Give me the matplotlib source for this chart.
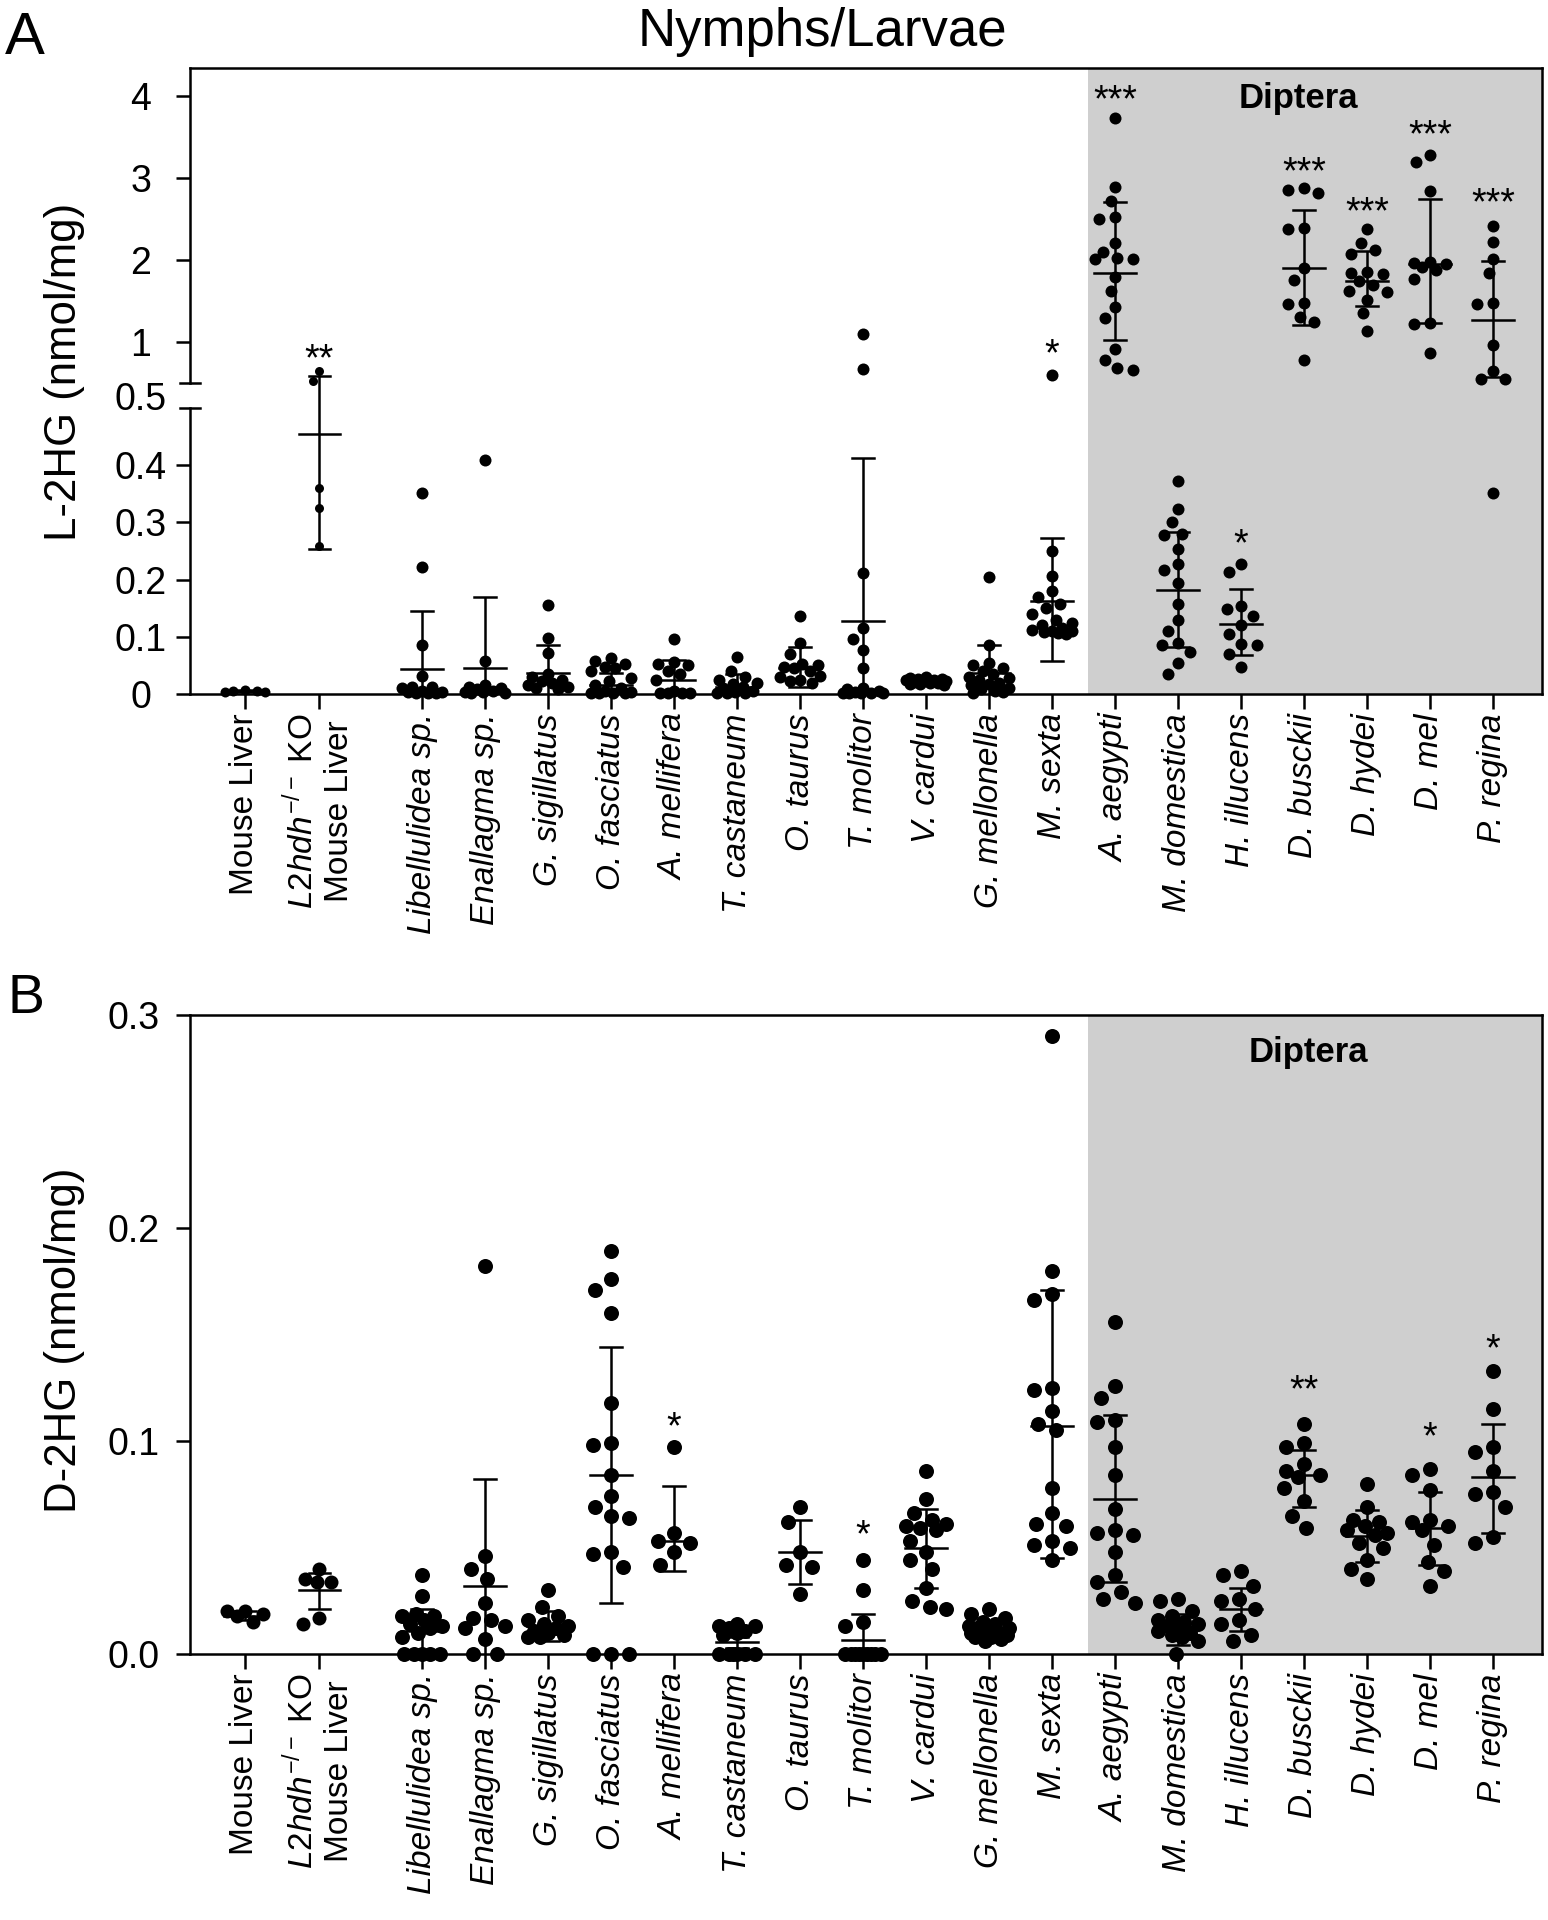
import numpy as np
import matplotlib
matplotlib.use("Agg")
import matplotlib.pyplot as plt

plt.rcParams['font.family'] = ['Liberation Sans', 'DejaVu Sans']
plt.rcParams['mathtext.fontset'] = 'custom'
plt.rcParams['mathtext.rm'] = 'Liberation Sans'
plt.rcParams['mathtext.it'] = 'Liberation Sans:italic'
plt.rcParams['mathtext.bf'] = 'Liberation Sans:bold'

# ---- categories ----
labels = ['Mouse Liver', '$\\mathit{L2hdh}^{-/-}$ KO\nMouse Liver',
          'Libellulidea sp.', 'Enallagma sp.', 'G. sigillatus', 'O. fasciatus',
          'A. mellifera', 'T. castaneum', 'O. taurus', 'T. molitor', 'V. cardui',
          'G. mellonella', 'M. sexta', 'A. aegypti', 'M. domestica', 'H. illucens',
          'D. busckii', 'D. hydei', 'D. mel', 'P. regina']
italic = [False, False] + [True] * 18

# ---- L-2HG (nmol/mg), panel A ----
l2hg_pts = [
    [0.004, 0.006, 0.007, 0.005, 0.004],
    [0.65, 0.53, 0.36, 0.325, 0.258],
    [0.351, 0.222, 0.086, 0.032, 0.013, 0.012, 0.010, 0.006, 0.004, 0.003, 0.002, 0.002, 0.001],
    [0.409, 0.058, 0.015, 0.012, 0.010, 0.008, 0.006, 0.004, 0.003, 0.002, 0.002],
    [0.156, 0.098, 0.071, 0.035, 0.030, 0.025, 0.022, 0.020, 0.015, 0.012, 0.010, 0.008],
    [0.063, 0.058, 0.052, 0.048, 0.045, 0.040, 0.028, 0.022, 0.015, 0.010, 0.005, 0.003, 0.002, 0.001, 0.001, 0.001],
    [0.096, 0.056, 0.052, 0.050, 0.040, 0.035, 0.025, 0.005, 0.002, 0.001, 0.001, 0.001],
    [0.064, 0.040, 0.030, 0.025, 0.020, 0.018, 0.012, 0.010, 0.005, 0.003, 0.002, 0.001, 0.001],
    [0.136, 0.090, 0.070, 0.052, 0.050, 0.047, 0.045, 0.040, 0.032, 0.030, 0.025, 0.022, 0.020],
    [1.097, 0.666, 0.212, 0.115, 0.096, 0.077, 0.045, 0.010, 0.008, 0.005, 0.003, 0.002, 0.001, 0.001, 0.001, 0.002],
    [0.030, 0.028, 0.027, 0.026, 0.025, 0.024, 0.023, 0.022, 0.021, 0.020, 0.019, 0.018, 0.017, 0.016],
    [0.204, 0.086, 0.055, 0.050, 0.045, 0.040, 0.035, 0.030, 0.028, 0.025, 0.020, 0.018, 0.015, 0.010, 0.008, 0.005, 0.003, 0.002],
    [0.593, 0.250, 0.207, 0.180, 0.170, 0.158, 0.150, 0.140, 0.130, 0.125, 0.120, 0.115, 0.112, 0.110, 0.110, 0.108, 0.106, 0.105],
    [3.737, 2.892, 2.72, 2.53, 2.50, 2.21, 2.10, 2.03, 2.02, 2.02, 1.79, 1.62, 1.43, 1.29, 0.92, 0.78, 0.68, 0.66],
    [0.373, 0.323, 0.300, 0.280, 0.278, 0.254, 0.228, 0.216, 0.194, 0.158, 0.130, 0.110, 0.090, 0.086, 0.074, 0.054, 0.035],
    [0.228, 0.214, 0.154, 0.148, 0.136, 0.120, 0.105, 0.087, 0.085, 0.070, 0.048],
    [2.88, 2.86, 2.82, 2.39, 2.38, 1.90, 1.76, 1.48, 1.46, 1.31, 1.24, 0.78],
    [2.375, 2.21, 2.12, 2.07, 1.85, 1.84, 1.83, 1.75, 1.70, 1.62, 1.61, 1.52, 1.35, 1.14],
    [3.28, 3.20, 2.85, 1.98, 1.96, 1.95, 1.92, 1.88, 1.77, 1.23, 1.22, 0.87],
    [2.42, 2.22, 2.01, 1.84, 1.48, 1.47, 0.97, 0.65, 0.55, 0.55, 0.351],
]
l2hg_mean = [0.005, 0.455, 0.043, 0.045, 0.037, 0.016, 0.024, 0.013, 0.045, 0.128,
             0.023, 0.036, 0.162, 1.843, 0.181, 0.122, 1.899, 1.748, 1.955, 1.266]
l2hg_hi = [0.007, 0.58, 0.145, 0.170, 0.086, 0.037, 0.059, 0.035, 0.082, 0.413,
           0.027, 0.086, 0.273, 2.712, 0.284, 0.184, 2.617, 2.107, 2.751, 1.995]
l2hg_lo = [0.003, 0.254, 0.0, 0.0, 0.0, 0.0, 0.0, 0.0, 0.013, 0.0,
           0.019, 0.0, 0.058, 1.03, 0.082, 0.068, 1.21, 1.44, 1.227, 0.571]
l2hg_stars = {1: ('**', 0.918), 12: ('*', 0.974), 13: ('***', 4.086), 15: ('*', 0.280),
              16: ('***', 3.206), 17: ('***', 2.712), 18: ('***', 3.654), 19: ('***', 2.825)}

# ---- D-2HG (nmol/mg), panel B ----
d2hg_pts = [
    [0.020, 0.015, 0.020, 0.018, 0.019],
    [0.040, 0.035, 0.034, 0.034, 0.017, 0.014],
    [0.037, 0.027, 0.019, 0.018, 0.018, 0.016, 0.014, 0.013, 0.012, 0.010, 0.008, 0.0, 0.0, 0.0, 0.0, 0.0],
    [0.182, 0.046, 0.040, 0.035, 0.024, 0.017, 0.016, 0.013, 0.012, 0.007, 0.0, 0.0],
    [0.030, 0.022, 0.018, 0.016, 0.014, 0.013, 0.012, 0.011, 0.010, 0.009, 0.008, 0.008],
    [0.189, 0.176, 0.171, 0.160, 0.118, 0.099, 0.098, 0.084, 0.074, 0.069, 0.065, 0.064, 0.048, 0.047, 0.041, 0.0, 0.0, 0.0],
    [0.097, 0.057, 0.053, 0.052, 0.048, 0.042],
    [0.014, 0.013, 0.013, 0.012, 0.011, 0.010, 0.009, 0.0, 0.0, 0.0, 0.0, 0.0, 0.0],
    [0.069, 0.062, 0.048, 0.042, 0.041, 0.028],
    [0.044, 0.030, 0.015, 0.013, 0.0, 0.0, 0.0, 0.0, 0.0, 0.0, 0.0, 0.0, 0.0],
    [0.086, 0.073, 0.066, 0.063, 0.061, 0.060, 0.059, 0.058, 0.053, 0.048, 0.044, 0.040, 0.031, 0.025, 0.022, 0.021],
    [0.021, 0.019, 0.017, 0.015, 0.014, 0.013, 0.012, 0.012, 0.011, 0.010, 0.010, 0.009, 0.009, 0.008, 0.008, 0.007, 0.006],
    [0.290, 0.180, 0.169, 0.166, 0.125, 0.124, 0.114, 0.108, 0.105, 0.078, 0.066, 0.061, 0.060, 0.053, 0.051, 0.050, 0.044],
    [0.156, 0.126, 0.120, 0.110, 0.109, 0.097, 0.084, 0.068, 0.058, 0.057, 0.056, 0.048, 0.037, 0.034, 0.029, 0.026, 0.024],
    [0.026, 0.025, 0.020, 0.018, 0.016, 0.015, 0.014, 0.013, 0.012, 0.011, 0.010, 0.009, 0.008, 0.006, 0.0],
    [0.039, 0.037, 0.032, 0.026, 0.025, 0.021, 0.016, 0.014, 0.009, 0.006],
    [0.108, 0.099, 0.097, 0.089, 0.086, 0.084, 0.083, 0.078, 0.072, 0.065, 0.059],
    [0.080, 0.069, 0.063, 0.062, 0.060, 0.058, 0.057, 0.056, 0.052, 0.050, 0.044, 0.040, 0.035],
    [0.087, 0.084, 0.077, 0.063, 0.062, 0.060, 0.058, 0.051, 0.043, 0.039, 0.032],
    [0.133, 0.115, 0.097, 0.095, 0.086, 0.076, 0.075, 0.069, 0.055, 0.052],
]
d2hg_mean = [0.018, 0.030, 0.011, 0.032, 0.013, 0.084, 0.053, 0.0055, 0.048, 0.0067,
             0.050, 0.011, 0.107, 0.073, 0.0126, 0.021, 0.084, 0.0555, 0.059, 0.083]
d2hg_hi = [0.020, 0.038, 0.021, 0.082, 0.020, 0.144, 0.079, 0.008, 0.063, 0.019,
           0.068, 0.015, 0.171, 0.112, 0.019, 0.031, 0.096, 0.0675, 0.076, 0.108]
d2hg_lo = [0.016, 0.021, 0.0, 0.0, 0.006, 0.024, 0.039, 0.003, 0.033, 0.0,
           0.031, 0.007, 0.045, 0.034, 0.004, 0.011, 0.069, 0.043, 0.042, 0.057]
d2hg_stars = {6: ('*', 0.1115), 9: ('*', 0.0608), 16: ('**', 0.1289),
              18: ('*', 0.1069), 19: ('*', 0.1478)}

# ---- layout ----
W, H = 1548, 1920
x_pos = np.r_[-2.81, -1.63, np.arange(18)]
xlim = (-3.683, 17.778)
diptera_start = 10.57
gray = '#cfcfcf'
LW = 1.8

# broken y axis for panel A: 0-0.5 and 0.5-4.35 with a gap
LOW, GAP, UP = 572.0, 25.0, 81.9


def fwd(v):
    v = np.asarray(v, float)
    return np.where(v <= 0.5, v * LOW, 0.5 * LOW + GAP + (v - 0.5) * UP)


def inv(p):
    p = np.asarray(p, float)
    return np.where(p <= 0.5 * LOW, p / LOW,
                    np.where(p < 0.5 * LOW + GAP, 0.5, 0.5 + (p - 0.5 * LOW - GAP) / UP))


def swarm_x(ax, x0, vals, d):
    vals = np.asarray(vals, float)
    p = ax.transData.transform(np.column_stack([np.full(len(vals), x0), vals]))
    ppu = ax.transData.transform([(1, 0)])[0, 0] - ax.transData.transform([(0, 0)])[0, 0]
    ys = p[:, 1]
    gap = 1.2 * d
    cands = np.linspace(-20, 20, 21)
    cands = cands[np.argsort(np.abs(cands), kind='stable')]
    offs = np.zeros(len(vals))
    done = []
    for i in np.argsort(-ys, kind='stable'):
        best, best_d = 0.0, -1.0
        for c in cands:
            dist = min((np.hypot(c - ox, ys[i] - oy) for ox, oy in done), default=np.inf)
            if dist >= gap:
                best = c
                break
            if dist > best_d:
                best, best_d = c, dist
        offs[i] = best
        done.append((best, ys[i]))
    return x0 + offs / ppu


def draw_panel(ax, pts, mean, hi, lo, stars, sizes):
    ax.axvspan(diptera_start, xlim[1], color=gray, lw=0, zorder=0)
    for i, vals in enumerate(pts):
        d = sizes[i]
        xs = swarm_x(ax, x_pos[i], vals, d)
        ax.scatter(xs, vals, s=(d * 0.72) ** 2, color='black', linewidths=0,
                   zorder=3, clip_on=False)
        x = x_pos[i]
        ax.plot([x, x], [lo[i], hi[i]], color='black', lw=LW, zorder=4,
                solid_capstyle='butt')
        ax.plot([x - 0.33, x + 0.33], [mean[i]] * 2, color='black', lw=LW, zorder=4)
        ax.plot([x - 0.17, x + 0.17], [hi[i]] * 2, color='black', lw=LW, zorder=4)
        if lo[i] > 0:
            ax.plot([x - 0.17, x + 0.17], [lo[i]] * 2, color='black', lw=LW, zorder=4)
    for i, (txt, yv) in stars.items():
        ax.annotate(txt, xy=(x_pos[i], yv), xytext=(0, -15.5), textcoords='offset points',
                    ha='center', va='baseline', fontsize=27, zorder=5)
    ax.set_xlim(*xlim)
    ax.set_xticks(x_pos)
    ax.set_xticklabels(labels, rotation=90, fontsize=24, multialignment='center')
    for lab, it in zip(ax.get_xticklabels(), italic):
        if it:
            lab.set_fontstyle('italic')
    ax.tick_params(axis='x', length=10.8, width=LW, pad=3)
    for s in ax.spines.values():
        s.set_linewidth(LW)


fig = plt.figure(figsize=(W / 100, H / 100), dpi=100)

# panel A
axA = fig.add_axes([190 / W, 1 - 694 / H, 1352 / W, 626 / H])
axA.set_yscale('function', functions=(fwd, inv))
axA.set_ylim(0, 4.347)
axA.set_xlim(*xlim)
a_ticks = [0, 0.1, 0.2, 0.3, 0.4, 1, 2, 3, 4]
axA.set_yticks(a_ticks, ['0', '0.1', '0.2', '0.3', '0.4', '1', '2', '3', '4'], ha='center')
axA.minorticks_off()
axA.tick_params(axis='y', length=10, width=LW, pad=25.3, labelsize=27)
sizesA = [10, 9] + [12] * 18
draw_panel(axA, l2hg_pts, l2hg_mean, l2hg_hi, l2hg_lo, l2hg_stars, sizesA)
axA.spines['left'].set_visible(False)
top_px = float(fwd(4.347))
y0 = 0.5 * LOW / top_px
y1 = (0.5 * LOW + GAP) / top_px
axA.plot([0, 0], [0, y0], transform=axA.transAxes, color='black', lw=LW, clip_on=False)
axA.plot([0, 0], [y1, 1], transform=axA.transAxes, color='black', lw=LW, clip_on=False)
for yy in (y0, y1):
    axA.plot([-10 / 1352, 10 / 1352], [yy, yy], transform=axA.transAxes,
             color='black', lw=LW, clip_on=False)
axA.annotate('0.5', xy=(0, (y0 + y1) / 2), xycoords='axes fraction', xytext=(-35.3, 0),
             textcoords='offset points', ha='center', va='center_baseline', fontsize=27)
axA.set_ylabel('L-2HG (nmol/mg)', fontsize=31.5, va='center')
axA.yaxis.set_label_coords(-0.0925, 0.514)
axA.text(0.8195, 0.936, 'Diptera', transform=axA.transAxes, ha='center', va='baseline',
         fontsize=25, fontweight='bold', zorder=5)

# panel B
axB = fig.add_axes([190 / W, 1 - 1654 / H, 1352 / W, 639 / H])
axB.set_ylim(0, 0.3)
axB.set_xlim(*xlim)
axB.set_yticks([0, 0.1, 0.2, 0.3], ['0.0', '0.1', '0.2', '0.3'], ha='center')
axB.tick_params(axis='y', length=10, width=LW, pad=30.3, labelsize=27)
sizesB = [14, 14] + [15] * 18
draw_panel(axB, d2hg_pts, d2hg_mean, d2hg_hi, d2hg_lo, d2hg_stars, sizesB)
axB.set_ylabel('D-2HG (nmol/mg)', fontsize=31.5, va='center')
axB.yaxis.set_label_coords(-0.0925, 0.491)
axB.text(0.827, 0.926, 'Diptera', transform=axB.transAxes, ha='center', va='baseline',
         fontsize=25, fontweight='bold', zorder=5)

fig.text(822 / W, 1 - 46 / H, 'Nymphs/Larvae', ha='center', va='baseline', fontsize=38)
fig.text(5 / W, 1 - 54 / H, 'A', ha='left', va='baseline', fontsize=43)
fig.text(8 / W, 1 - 1013 / H, 'B', ha='left', va='baseline', fontsize=40)

fig.savefig('out.png', dpi=100, facecolor='white')
